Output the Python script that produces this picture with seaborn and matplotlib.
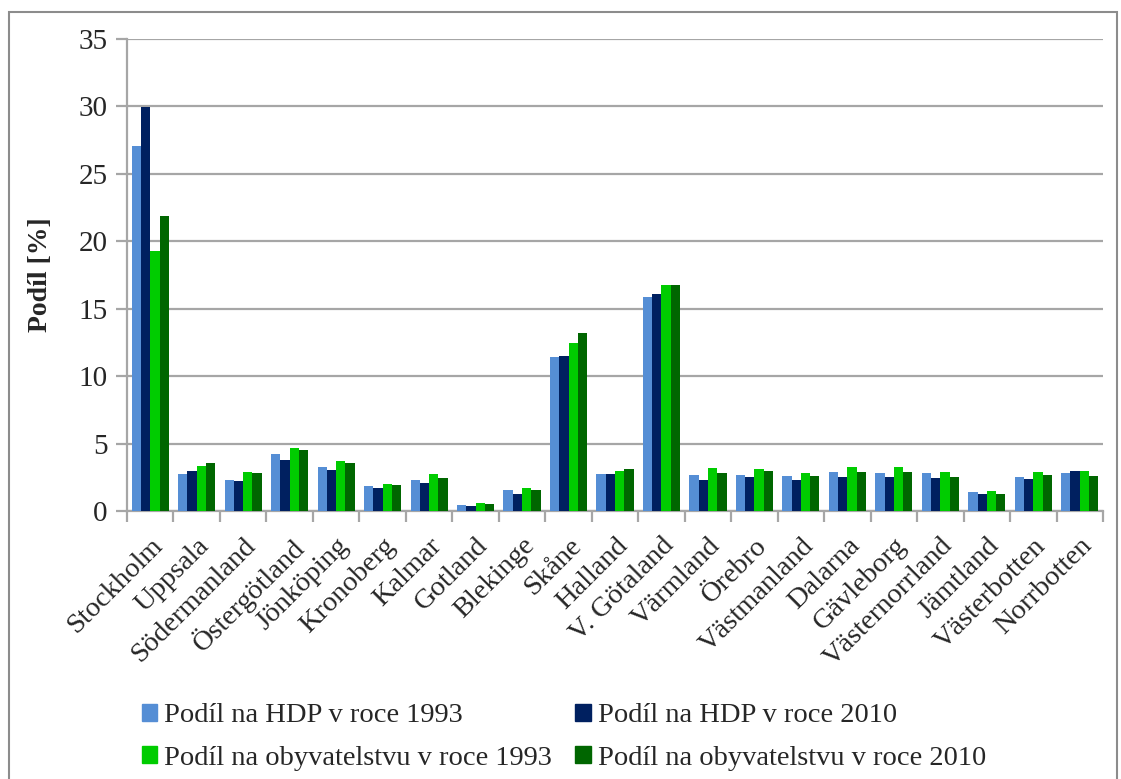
import matplotlib
matplotlib.use('Agg')
import matplotlib.pyplot as plt
import matplotlib.patches as mpatches
import seaborn as sns
import numpy as np
import pandas as pd

regions = ['Stockholm', 'Uppsala', 'Södermanland', 'Östergötland', 'Jönköping',
           'Kronoberg', 'Kalmar', 'Gotland', 'Blekinge', 'Skåne', 'Halland',
           'V. Götaland', 'Värmland', 'Örebro', 'Västmanland', 'Dalarna',
           'Gävleborg', 'Västernorrland', 'Jämtland', 'Västerbotten', 'Norrbotten']

hdp_1993 = [27.1, 2.75, 2.28, 4.2, 3.27, 1.86, 2.33, 0.47, 1.53, 11.43, 2.72,
            15.84, 2.65, 2.65, 2.57, 2.92, 2.82, 2.8, 1.41, 2.55, 2.8]
hdp_2010 = [29.97, 3.0, 2.23, 3.76, 3.04, 1.73, 2.05, 0.4, 1.26, 11.48, 2.72,
            16.1, 2.28, 2.55, 2.28, 2.52, 2.5, 2.42, 1.26, 2.4, 2.97]
obyv_1993 = [19.25, 3.3, 2.87, 4.65, 3.69, 2.0, 2.72, 0.6, 1.68, 12.47, 2.95,
             16.75, 3.22, 3.1, 2.8, 3.24, 3.24, 2.92, 1.48, 2.87, 3.0]
obyv_2010 = [21.85, 3.55, 2.82, 4.5, 3.54, 1.9, 2.42, 0.55, 1.56, 13.19, 3.12,
             16.78, 2.85, 2.95, 2.62, 2.87, 2.87, 2.52, 1.29, 2.7, 2.6]

series = ['Podíl na HDP v roce 1993', 'Podíl na HDP v roce 2010',
          'Podíl na obyvatelstvu v roce 1993', 'Podíl na obyvatelstvu v roce 2010']
colors = ['#558ED5', '#002060', '#00CC00', '#006600']

df = pd.DataFrame({
    'region': regions * 4,
    'serie': np.repeat(series, len(regions)),
    'value': hdp_1993 + hdp_2010 + obyv_1993 + obyv_2010,
})

sns.set_theme(style='white')
plt.rcParams['font.family'] = ['Liberation Serif', 'DejaVu Serif']

fig = plt.figure(figsize=(11.21, 7.79), dpi=100)
ax = fig.add_axes([127 / 1121, 1 - 511 / 779, (1103 - 127) / 1121, (511 - 39) / 779])

sns.barplot(data=df, x='region', y='value', hue='serie', palette=colors,
            width=0.8, gap=0, saturation=1, linewidth=0, legend=False, ax=ax, zorder=3)

grid_c = '#A6A6A6'
ax.set_ylim(0, 35)
ax.set_xlim(-0.5, len(regions) - 0.5)
ax.set_yticks(range(0, 36, 5))
ax.yaxis.grid(True, color=grid_c, linewidth=1.6, zorder=0)
ax.set_axisbelow(True)
for s in ['top', 'right']:
    ax.spines[s].set_visible(False)
for s in ['left', 'bottom']:
    ax.spines[s].set_color(grid_c)
    ax.spines[s].set_linewidth(1.6)

ax.set_xticks(np.arange(-0.5, len(regions), 1), minor=True)
ax.tick_params(axis='x', which='minor', length=8, width=1.6, color=grid_c, bottom=True)
ax.tick_params(axis='x', which='major', length=0, pad=16, labelsize=20.5)
ax.tick_params(axis='y', length=8, width=1.6, color=grid_c, left=True, labelsize=21, pad=6)
plt.setp(ax.get_xticklabels(), rotation=45, ha='right', rotation_mode='anchor')

ax.set_xlabel('')
ax.set_ylabel('Podíl [%]', fontsize=20, fontweight='bold', labelpad=18)

# matplotlib fills legend columns first, so reorder to get rows like the original
handles = [mpatches.Patch(color=c, label=l) for c, l in zip(colors, series)]
handles = [handles[i] for i in (0, 2, 1, 3)]
fig.legend(handles=handles, loc='lower center', bbox_to_anchor=(0.503, -0.022), ncol=2,
           frameon=False, fontsize=20.5, handlelength=0.55, handleheight=0.55,
           handletextpad=0.25, columnspacing=0.8, labelspacing=0.6)

fig.patches.append(mpatches.Rectangle((9 / 1121, -0.01), (1117 - 9) / 1121, 1.01 - 12 / 779,
                                      transform=fig.transFigure, fill=False,
                                      edgecolor='#8C8C8C', linewidth=1.5))

fig.savefig('out.png', dpi=100)
